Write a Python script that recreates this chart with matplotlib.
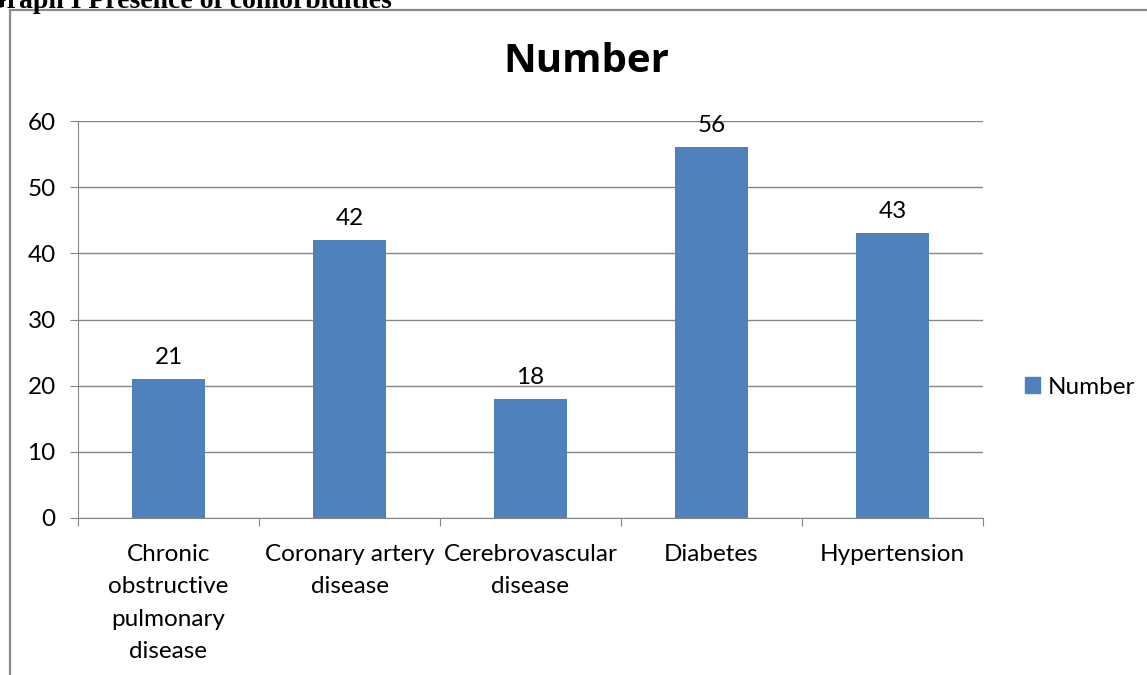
import matplotlib.pyplot as plt
import matplotlib.patches as mpatches
import numpy as np

# Comorbidity counts
categories = ['Chronic\nobstructive\npulmonary\ndisease', 'Coronary artery\ndisease',
              'Cerebrovascular\ndisease', 'Diabetes', 'Hypertension']
counts = [21, 42, 18, 56, 43]
y_ticks = [0, 10, 20, 30, 40, 50, 60]

bar_color = '#4F81BD'
grid_color = '#868686'
font = 'Lato'
fs = 17.5

fig = plt.figure(figsize=(11.47, 6.75), dpi=100)

# Outer chart frame, running off the right and bottom edges
frame = mpatches.Rectangle((10 / 1147, -0.05), 1.2, 1 - 10 / 675 + 0.05,
                           transform=fig.transFigure, fill=False,
                           edgecolor='#8a8a8a', linewidth=1.6)
fig.patches.append(frame)

# Caption sitting above the frame, clipped by the top edge
fig.text(-15 / 1147, 1 - 8 / 675, 'Graph I Presence of comorbidities',
         family='Liberation Serif', weight='bold', fontsize=20,
         va='baseline', ha='left')

# Chart title, centred on the frame
fig.text(586 / 1147, 1 - 62 / 675, 'Number', family='Open Sans', weight='bold',
         fontsize=29, ha='center', va='center')

ax = fig.add_axes([78 / 1147, 1 - 518 / 675, (983 - 78) / 1147, (518 - 121) / 675])

x = np.arange(len(categories))
ax.bar(x, counts, width=0.4, color=bar_color, zorder=3)
for xi, c in zip(x, counts):
    ax.annotate(str(c), (xi, c), xytext=(0, 8), textcoords='offset points',
                ha='center', va='bottom', fontsize=fs, family=font)

ax.set_xlim(-0.5, len(categories) - 0.5)
ax.set_ylim(0, 60)
ax.set_yticks(y_ticks)
ax.set_yticklabels([str(t) for t in y_ticks], family=font, fontsize=fs)
ax.yaxis.grid(True, color=grid_color, linewidth=1, zorder=0)
ax.tick_params(axis='y', length=6, color=grid_color, pad=10)

# Category ticks sit between the bars
ax.set_xticks(np.arange(len(categories) + 1) - 0.5)
ax.set_xticklabels([])
ax.set_xticks(x, minor=True)
ax.set_xticklabels(categories, minor=True, family=font, fontsize=fs,
                   linespacing=1.68, va='top')
ax.tick_params(axis='x', which='major', length=6, color=grid_color)
ax.tick_params(axis='x', which='minor', length=0, pad=18.5)

for side in ['top', 'right']:
    ax.spines[side].set_visible(False)
for side in ['left', 'bottom']:
    ax.spines[side].set_color(grid_color)

handle = mpatches.Patch(color=bar_color, label='Number')
fig.legend(handles=[handle], loc='center left', bbox_to_anchor=(1025 / 1147, 1 - 387 / 675),
           frameon=False, prop={'family': font, 'size': fs},
           borderpad=0, borderaxespad=0,
           handlelength=0.62, handleheight=0.62, handletextpad=0.3)

fig.savefig('out.png', dpi=100)
